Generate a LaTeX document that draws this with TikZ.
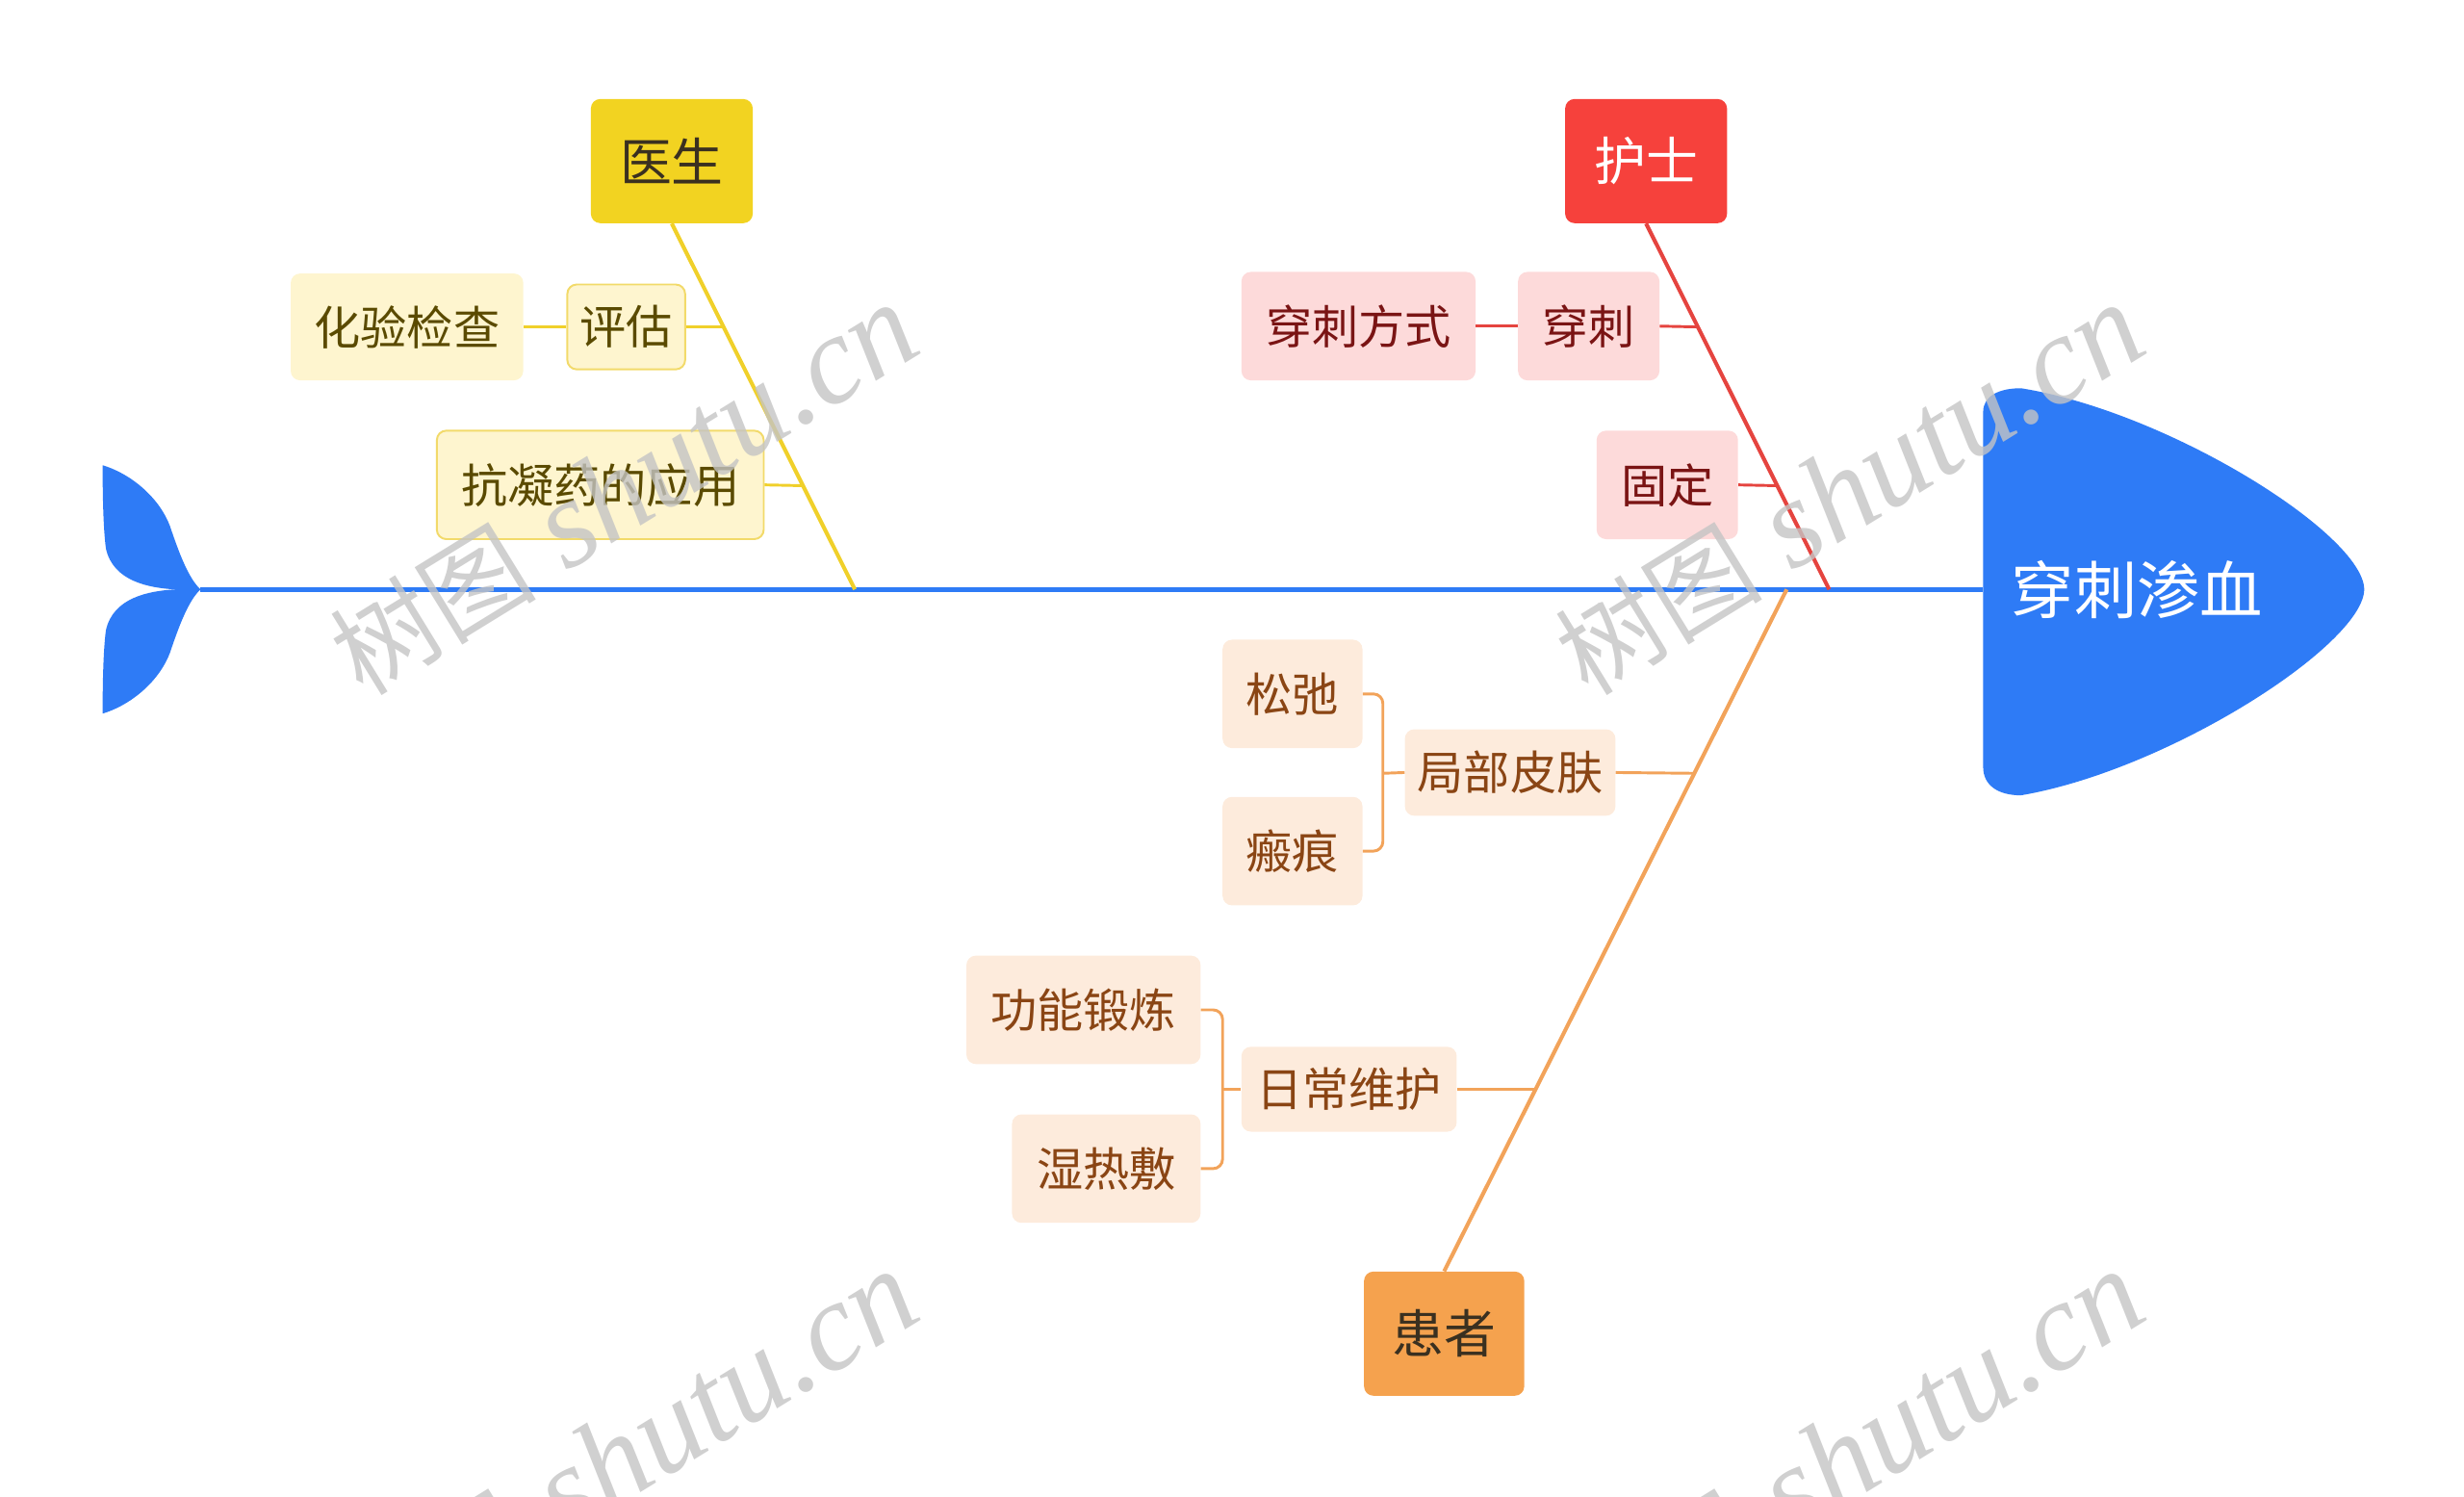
\documentclass[tikz,border=0pt]{standalone}
\usepackage{fontspec}
\setmainfont{Noto Sans CJK SC}
\newfontfamily\cjk{Noto Sans CJK SC}
\newfontfamily\wmlat{Liberation Serif}
\usetikzlibrary{calc}
\definecolor{spineblue}{HTML}{2E7BF6}
\definecolor{ymain}{HTML}{F2D321}
\definecolor{yline}{HTML}{F0D02A}
\definecolor{yfill}{HTML}{FEF5CF}
\definecolor{yborder}{HTML}{F2DA6A}
\definecolor{ytext}{HTML}{5A4A00}
\definecolor{rmain}{HTML}{F6413C}
\definecolor{rline}{HTML}{E5443F}
\definecolor{rfill}{HTML}{FDDADA}
\definecolor{rtext}{HTML}{7A1414}
\definecolor{omain}{HTML}{F5A24E}
\definecolor{oline}{HTML}{F2A35A}
\definecolor{ofill}{HTML}{FDEBDC}
\definecolor{otext}{HTML}{8A4514}
\definecolor{darktext}{HTML}{3A3020}
\definecolor{wmgray}{HTML}{C4C4C4}
\newcommand{\wmtext}{{\cjk\fontsize{66}{66}\selectfont 树图}{\wmlat\itshape\fontsize{80}{80}\selectfont\ shutu.cn}}
\begin{document}
\begin{tikzpicture}[x=1pt,y=-1pt,
  box/.style={rounded corners=6pt, inner sep=0pt, align=center},
  mainbox/.style={box, minimum width=103pt, minimum height=79pt, font=\fontsize{33}{36}\selectfont},
  subbox/.style={box, minimum height=69pt, font=\fontsize{29.5}{34}\selectfont},
  ysub/.style={subbox, fill=yfill, text=ytext},
  rsub/.style={subbox, fill=rfill, text=rtext},
  osub/.style={subbox, fill=ofill, text=otext},
  bone/.style={line width=2.5pt},
  subline/.style={line width=1.8pt},
  wm/.style={rotate=31.6, text=wmgray, text opacity=0.8, inner sep=0pt}
]
\useasboundingbox (0,0) rectangle (1568,952);

% tail
\fill[spineblue] (65.3,296) .. controls (85,302) and (102,318) .. (108.2,334.8)
  .. controls (114,352) and (120,368) .. (127.6,375) -- (111.3,375)
  .. controls (95,374) and (72,370) .. (67.4,349)
  .. controls (65.5,335) and (65.3,310) .. cycle;
\fill[spineblue] (65.3,454) .. controls (85,448) and (102,432) .. (108.2,415.2)
  .. controls (114,398) and (120,382) .. (127.6,375) -- (111.3,375)
  .. controls (95,376) and (72,380) .. (67.4,401)
  .. controls (65.5,415) and (65.3,440) .. cycle;
% head
\fill[spineblue] (1262,262) .. controls (1262,252) and (1272,247) .. (1286,247)
  .. controls (1380,262) and (1504,340) .. (1504.5,375)
  .. controls (1504,410) and (1380,490) .. (1286,506)
  .. controls (1272,506) and (1262,500) .. (1262,488) -- cycle;
\node[text=white, font=\fontsize{40}{44}\selectfont, inner sep=0pt] (head) at (1360,375) {穿刺渗血};

\coordinate (tailj) at (127.6,375);
\coordinate (headl) at (1262,375);
\draw[spineblue, line width=3pt] (tailj) -- (headl);

% main boxes
\node[mainbox, fill=ymain, text=darktext] (doc) at (427.5,102.5) {医生};
\node[mainbox, fill=rmain, text=white] (nur) at (1047.5,102.5) {护士};
\node[mainbox, fill=omain, text=darktext, minimum width=102pt] (pat) at (919,848.5) {患者};

% bone attach points
\coordinate (yb) at (544,375);
\coordinate (rb) at (1164,375);
\coordinate (ob) at (1137,375);
\coordinate (y1) at (460.5,208);
\coordinate (y2) at (511,309);
\coordinate (r1) at (1081,208);
\coordinate (r2) at (1131,309);
\coordinate (o1) at (1078,492);
\coordinate (o2) at (977,693);
\coordinate (bk1) at (880,492);
\coordinate (bk2) at (778,693);

\draw[yline, bone] (doc.south) -- (yb);
\draw[rline, bone] (nur.south) -- (rb);
\draw[oline, bone] (pat.north) -- (ob);

% doctor branch
\node[ysub, minimum width=148pt, minimum height=68pt] (hy) at (259,208) {化验检查};
\node[ysub, draw=yborder, line width=1.2pt, minimum width=75pt, minimum height=54pt] (pg) at (398.5,208) {评估};
\node[ysub, draw=yborder, line width=1.2pt, minimum width=208pt] (kn) at (382,308.5) {抗凝药的应用};
\draw[yline, subline] (pg.east) -- (y1);
\draw[yline, subline] (hy.east) -- (pg.west);
\draw[yline, subline] (kn.east) -- (y2);

% nurse branch
\node[rsub, minimum width=149pt] (csfs) at (864.5,207.5) {穿刺方式};
\node[rsub, minimum width=90pt] (cs) at (1011,207.5) {穿刺};
\node[rsub, minimum width=90pt] (gd) at (1061,308.5) {固定};
\draw[rline, subline] (cs.east) -- (r1);
\draw[rline, subline] (csfs.east) -- (cs.west);
\draw[rline, subline] (gd.east) -- (r2);

% patient branch
\node[osub, minimum width=134pt, minimum height=55pt] (jbpf) at (961,491.5) {局部皮肤};
\node[osub, minimum width=89pt] (sc) at (822.5,441.5) {松弛};
\node[osub, minimum width=89pt] (bh) at (822.5,541.5) {瘢痕};
\node[osub, minimum width=137pt, minimum height=54pt] (rcwh) at (858.5,693) {日常维护};
\node[osub, minimum width=149pt] (gndl) at (689.5,642.5) {功能锻炼};
\node[osub, minimum width=120pt] (srf) at (704,743.5) {湿热敷};
\draw[oline, subline] (jbpf.east) -- (o1);
\draw[oline, subline] (rcwh.east) -- (o2);
\draw[oline, subline, rounded corners=6pt] (sc.east) -| (bk1) |- (bh.east);
\draw[oline, subline] (bk1) -- (jbpf.west);
\draw[oline, subline, rounded corners=6pt] (gndl.east) -| (bk2) |- (srf.east);
\draw[oline, subline] (bk2) -- (rcwh.west);

% watermarks
\begin{scope}
\clip (0,0) rectangle (1568,952);
\node[wm] (wm1) at (397,312) {\wmtext};
\node[wm] (wm2) at (1177,312) {\wmtext};
\node[wm] (wm3) at (397,927) {\wmtext};
\node[wm] (wm4) at (1177,927) {\wmtext};
\end{scope}
\end{tikzpicture}
\end{document}
